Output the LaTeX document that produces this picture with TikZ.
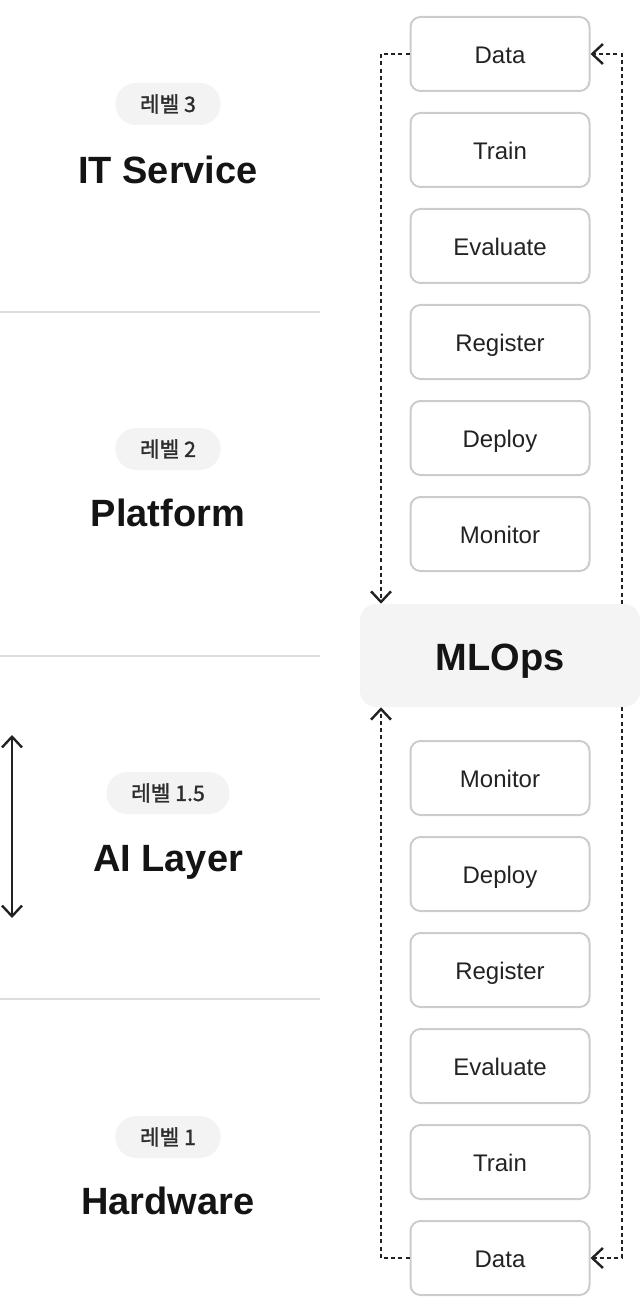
\documentclass[tikz,border=0pt]{standalone}
\usepackage{fontspec}
\setmainfont{Liberation Sans}
\newfontfamily\cjk{Noto Sans CJK KR}[FakeBold=1.5]
\usetikzlibrary{positioning,arrows.meta}
\usepackage{xcolor}

\definecolor{ink}{HTML}{222222}
\definecolor{rule}{HTML}{DDDDDD}
\definecolor{edge}{HTML}{CCCCCC}
\definecolor{pill}{HTML}{F3F3F3}
\definecolor{hub}{HTML}{F4F4F4}

\tikzset{
  stage/.style={draw=edge,line width=1.5pt,rounded corners=7.5pt,
    minimum width=134.25pt,minimum height=55.5pt,text=ink,
    text height=16.5pt,text depth=2.1pt,
    font=\fontsize{18}{20}\selectfont},
  level/.style={fill=pill,rounded corners=15.5pt,minimum height=31.5pt,
    inner xsep=18.5pt,text=ink!95,font=\cjk\fontsize{16}{18}\selectfont},
  title/.style={text=black!92,text height=24pt,text depth=3.6pt,
    font=\bfseries\fontsize{28.5}{32}\selectfont},
  barb/.tip={Straight Barb[length=8pt,width=15pt]},
  feedback/.style={draw=ink,line width=1.8pt,dash pattern=on 3pt off 2.4pt,-barb},
}

\begin{document}
\begin{tikzpicture}[x=0.75pt,y=-0.75pt]
\useasboundingbox (0,0) rectangle (640,1312);

% separators between levels
\foreach \y in {312,656,999}
    \draw[rule,line width=1.5pt] (0,\y) -- (320,\y);

% levels
\node[level] (lv3) at (168,104) {레벨 3};
\node[title] (itsvc) at (168,170) {IT Service};
\node[level] (lv2) at (168,449) {레벨 2};
\node[title] (platform) at (168,513) {Platform};
\node[level] (lv15) at (168,793) {레벨 1.5};
\node[title] (ailayer) at (168,858) {AI Layer};
\node[level] (lv1) at (168,1137) {레벨 1};
\node[title] (hardware) at (168,1201) {Hardware};

% span of the AI layer
\coordinate (spantop) at (12,735);
\coordinate (spanbot) at (12,918);
\draw[ink,line width=1.8pt,barb-barb] (spantop) -- (spanbot);

% pipeline steps
\foreach \name [count=\i from 0] in {Data,Train,Evaluate,Register,Deploy,Monitor}
    \node[stage] (t\i) at (500,{54+96*\i}) {\name};
\foreach \name [count=\i from 0] in {Monitor,Deploy,Register,Evaluate,Train,Data}
    \node[stage] (b\i) at (500,{778+96*\i}) {\name};

\node[fill=hub,rounded corners=12pt,minimum width=210pt,minimum height=77.25pt,
    text height=24pt,text depth=2.1pt,
    text=black!92,font=\bfseries\fontsize{28.5}{32}\selectfont] (mlops) at (500,655.5) {MLOps};

% feedback loops
\coordinate (lx) at (381,0);
\coordinate (rx) at (622,0);
\draw[feedback] (t0.west) -| (lx |- mlops.north);
\draw[feedback] (rx |- mlops.north) |- (t0.east);
\draw[feedback] (b5.west) -| (lx |- mlops.south);
\draw[feedback] (rx |- mlops.south) |- (b5.east);
\end{tikzpicture}
\end{document}
